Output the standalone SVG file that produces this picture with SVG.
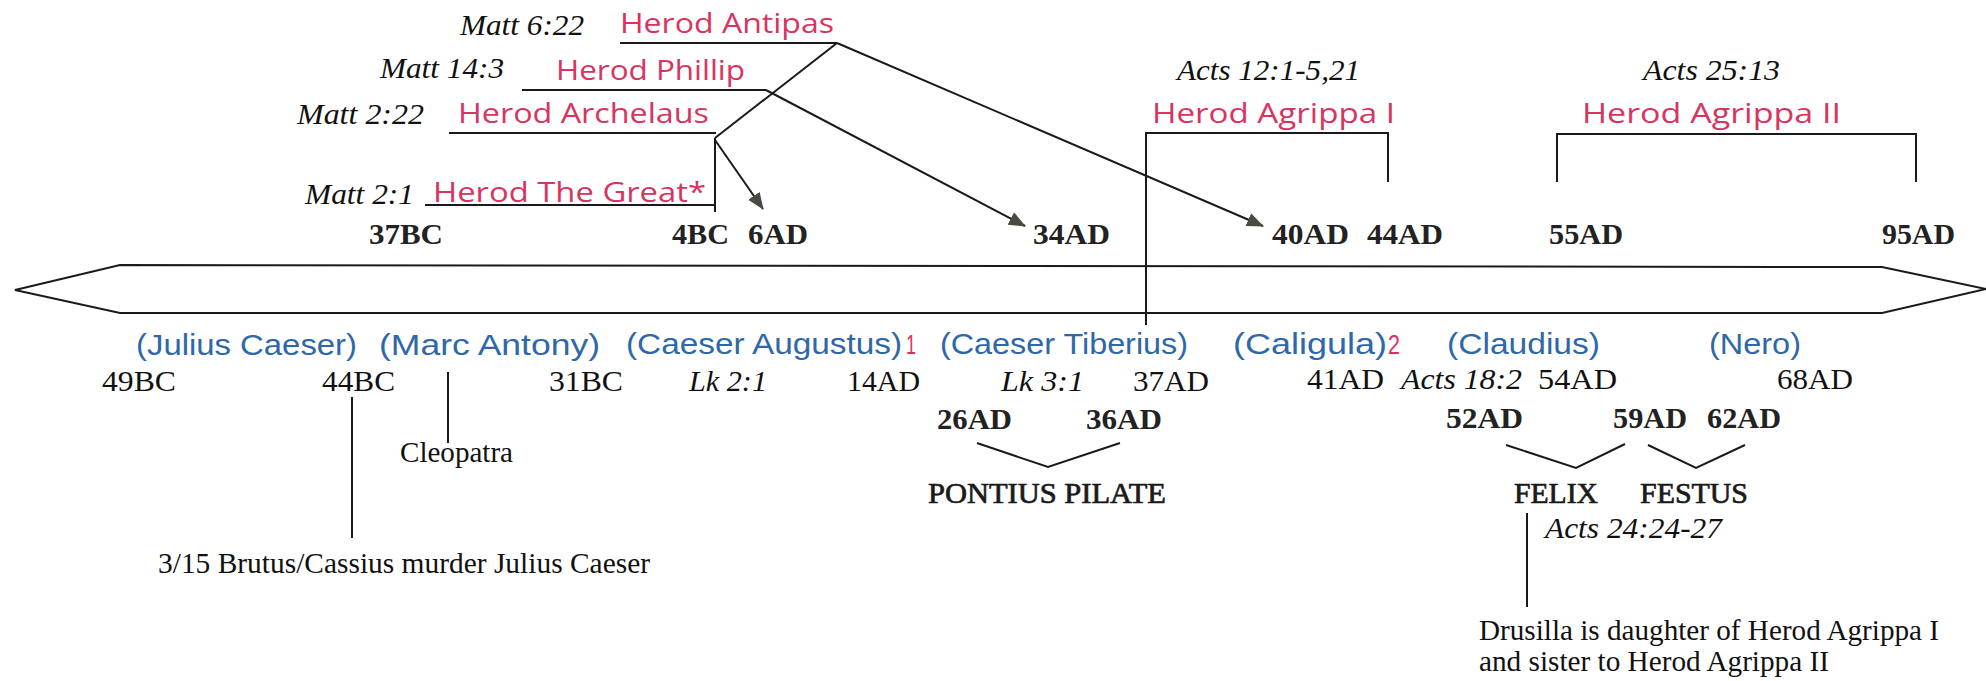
<svg xmlns="http://www.w3.org/2000/svg" width="1986" height="681" viewBox="0 0 1986 681">
<style>
.ref{font-family:"Liberation Serif",serif;font-style:italic;font-size:30px;fill:#111}
.red{font-family:"Open Sans","Liberation Sans",sans-serif;font-size:28px;fill:#d8345f}
.blue{font-family:"Liberation Sans","DejaVu Sans",sans-serif;font-size:30px;fill:#2f68a8}
.redn{font-family:"Liberation Sans",sans-serif;font-size:27px;fill:#d8345f}
.date{font-family:"Liberation Serif",serif;font-size:30px;fill:#111}
.bold{font-family:"Liberation Serif",serif;font-size:30px;font-weight:bold;fill:#222}
.name{font-family:"Liberation Serif",serif;font-size:29px;fill:#1a1a1a;stroke:#1a1a1a;stroke-width:0.7}
.txt{font-family:"Liberation Serif",serif;font-size:29px;fill:#111}
.ln{stroke:#1a1a1a;stroke-width:2;fill:none}
</style>
<defs>
<marker id="ah" markerUnits="userSpaceOnUse" markerWidth="20" markerHeight="16" refX="16" refY="7" orient="auto">
<path d="M0,0 L17,7 L0,14 Z" fill="#4a4a42"/>
</marker>
</defs>
<rect width="1986" height="681" fill="#fff"/>

<g id="timeline">
<polygon points="15,290 120,265 1882,267 1986,289 1882,313 120,313" fill="none" stroke="#1a1a1a" stroke-width="2"/>
</g>

<g id="connectors">
<line class="ln" x1="620" y1="43" x2="837" y2="43"/>
<line class="ln" x1="522" y1="90" x2="766" y2="90"/>
<line class="ln" x1="449" y1="133" x2="716" y2="133"/>
<line class="ln" x1="425" y1="205" x2="715" y2="205"/>
<line class="ln" x1="715" y1="138" x2="715" y2="212"/>
<line class="ln" x1="715" y1="138" x2="837" y2="43"/>
<line class="ln" x1="715" y1="140" x2="763" y2="209" marker-end="url(#ah)"/>
<line class="ln" x1="766" y1="90" x2="1025" y2="226" marker-end="url(#ah)"/>
<line class="ln" x1="837" y1="43" x2="1263" y2="226" marker-end="url(#ah)"/>
<polyline class="ln" points="1146,325 1146,133 1388,133 1388,182"/>
<polyline class="ln" points="1557,182 1557,134 1916,134 1916,182"/>
<line class="ln" x1="448" y1="372" x2="448" y2="443"/>
<line class="ln" x1="352" y1="397" x2="352" y2="538"/>
<polyline class="ln" points="977,443 1048,467 1120,443"/>
<polyline class="ln" points="1506,445 1576,468 1625,444"/>
<polyline class="ln" points="1648,445 1696,468 1745,445"/>
<line class="ln" x1="1527" y1="513" x2="1527" y2="607"/>
</g>

<g id="herod-antipas">
<text class="ref" x="460" y="35" textLength="124" lengthAdjust="spacingAndGlyphs">Matt 6:22</text>
<text class="red" x="620" y="33" textLength="214" lengthAdjust="spacingAndGlyphs">Herod Antipas</text>
</g>
<g id="herod-phillip">
<text class="ref" x="380" y="78" textLength="124" lengthAdjust="spacingAndGlyphs">Matt 14:3</text>
<text class="red" x="556" y="80" textLength="189" lengthAdjust="spacingAndGlyphs">Herod Phillip</text>
</g>
<g id="herod-archelaus">
<text class="ref" x="297" y="124" textLength="127" lengthAdjust="spacingAndGlyphs">Matt 2:22</text>
<text class="red" x="458" y="123" textLength="251" lengthAdjust="spacingAndGlyphs">Herod Archelaus</text>
</g>
<g id="herod-great">
<text class="ref" x="305" y="204" textLength="109" lengthAdjust="spacingAndGlyphs">Matt 2:1</text>
<text class="red" x="433" y="202" textLength="273" lengthAdjust="spacingAndGlyphs">Herod The Great*</text>
</g>
<g id="herod-agrippa-1">
<text class="ref" x="1177" y="80" textLength="183" lengthAdjust="spacingAndGlyphs">Acts 12:1-5,21</text>
<text class="red" x="1152" y="123" textLength="243" lengthAdjust="spacingAndGlyphs">Herod Agrippa I</text>
</g>
<g id="herod-agrippa-2">
<text class="ref" x="1643" y="80" textLength="137" lengthAdjust="spacingAndGlyphs">Acts 25:13</text>
<text class="red" x="1582" y="123" textLength="259" lengthAdjust="spacingAndGlyphs">Herod Agrippa II</text>
</g>

<g id="top-dates">
<text class="bold" x="369" y="244" textLength="74" lengthAdjust="spacingAndGlyphs">37BC</text>
<text class="bold" x="672" y="244" textLength="57" lengthAdjust="spacingAndGlyphs">4BC</text>
<text class="bold" x="748" y="244" textLength="60" lengthAdjust="spacingAndGlyphs">6AD</text>
<text class="bold" x="1033" y="244" textLength="77" lengthAdjust="spacingAndGlyphs">34AD</text>
<text class="bold" x="1272" y="244" textLength="77" lengthAdjust="spacingAndGlyphs">40AD</text>
<text class="bold" x="1367" y="244" textLength="76" lengthAdjust="spacingAndGlyphs">44AD</text>
<text class="bold" x="1549" y="244" textLength="74" lengthAdjust="spacingAndGlyphs">55AD</text>
<text class="bold" x="1882" y="244" textLength="73" lengthAdjust="spacingAndGlyphs">95AD</text>
</g>

<g id="emperors">
<text class="blue" x="136" y="355" textLength="221" lengthAdjust="spacingAndGlyphs">(Julius Caeser)</text>
<text class="blue" x="379" y="355" textLength="221" lengthAdjust="spacingAndGlyphs">(Marc Antony)</text>
<text class="blue" x="626" y="354" textLength="276" lengthAdjust="spacingAndGlyphs">(Caeser Augustus)</text>
<text class="redn" x="906" y="354" textLength="10" lengthAdjust="spacingAndGlyphs">1</text>
<text class="blue" x="940" y="354" textLength="248" lengthAdjust="spacingAndGlyphs">(Caeser Tiberius)</text>
<text class="blue" x="1233" y="354" textLength="154" lengthAdjust="spacingAndGlyphs">(Caligula)</text>
<text class="redn" x="1388" y="354" textLength="12" lengthAdjust="spacingAndGlyphs">2</text>
<text class="blue" x="1447" y="354" textLength="153" lengthAdjust="spacingAndGlyphs">(Claudius)</text>
<text class="blue" x="1709" y="354" textLength="92" lengthAdjust="spacingAndGlyphs">(Nero)</text>
</g>

<g id="lower-dates">
<text class="date" x="102" y="391" textLength="74" lengthAdjust="spacingAndGlyphs">49BC</text>
<text class="date" x="322" y="391" textLength="73" lengthAdjust="spacingAndGlyphs">44BC</text>
<text class="date" x="549" y="391" textLength="74" lengthAdjust="spacingAndGlyphs">31BC</text>
<text class="ref" x="689" y="391" textLength="78" lengthAdjust="spacingAndGlyphs">Lk 2:1</text>
<text class="date" x="847" y="391" textLength="73" lengthAdjust="spacingAndGlyphs">14AD</text>
<text class="ref" x="1001" y="391" textLength="83" lengthAdjust="spacingAndGlyphs">Lk 3:1</text>
<text class="date" x="1133" y="391" textLength="76" lengthAdjust="spacingAndGlyphs">37AD</text>
<text class="date" x="1307" y="389" textLength="77" lengthAdjust="spacingAndGlyphs">41AD</text>
<text class="ref" x="1401" y="389" textLength="121" lengthAdjust="spacingAndGlyphs">Acts 18:2</text>
<text class="date" x="1538" y="389" textLength="79" lengthAdjust="spacingAndGlyphs">54AD</text>
<text class="date" x="1777" y="389" textLength="76" lengthAdjust="spacingAndGlyphs">68AD</text>
</g>

<g id="governor-dates">
<text class="bold" x="937" y="429" textLength="75" lengthAdjust="spacingAndGlyphs">26AD</text>
<text class="bold" x="1086" y="429" textLength="76" lengthAdjust="spacingAndGlyphs">36AD</text>
<text class="bold" x="1446" y="428" textLength="77" lengthAdjust="spacingAndGlyphs">52AD</text>
<text class="bold" x="1613" y="428" textLength="74" lengthAdjust="spacingAndGlyphs">59AD</text>
<text class="bold" x="1707" y="428" textLength="74" lengthAdjust="spacingAndGlyphs">62AD</text>
</g>

<g id="pontius-pilate">
<text class="name" x="928" y="503" textLength="238" lengthAdjust="spacingAndGlyphs">PONTIUS PILATE</text>
</g>
<g id="felix">
<text class="name" x="1514" y="503" textLength="84" lengthAdjust="spacingAndGlyphs">FELIX</text>
</g>
<g id="festus">
<text class="name" x="1640" y="503" textLength="108" lengthAdjust="spacingAndGlyphs">FESTUS</text>
</g>
<g id="felix-ref">
<text class="ref" x="1545" y="538" textLength="177" lengthAdjust="spacingAndGlyphs">Acts 24:24-27</text>
</g>
<g id="cleopatra">
<text class="txt" x="400" y="462" textLength="113" lengthAdjust="spacingAndGlyphs">Cleopatra</text>
</g>
<g id="brutus">
<text class="txt" x="158" y="573" textLength="492" lengthAdjust="spacingAndGlyphs">3/15 Brutus/Cassius murder Julius Caeser</text>
</g>
<g id="drusilla">
<text class="txt" x="1479" y="640" textLength="460" lengthAdjust="spacingAndGlyphs">Drusilla is daughter of Herod Agrippa I</text>
<text class="txt" x="1479" y="671" textLength="350" lengthAdjust="spacingAndGlyphs">and sister to Herod Agrippa II</text>
</g>
</svg>
